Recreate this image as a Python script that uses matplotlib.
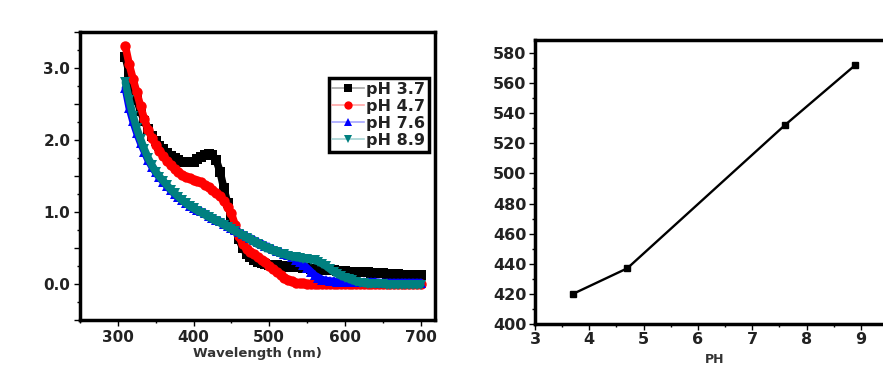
import numpy as np
import matplotlib
matplotlib.use("Agg")
import matplotlib.pyplot as plt
from matplotlib.ticker import MultipleLocator, FuncFormatter
from matplotlib.colors import to_rgb

# UV-vis spectra, wavelength 310..700 nm every 5 nm
wavelength = np.arange(310, 701, 5)

abs_ph37 = [3.15, 2.93, 2.74, 2.56, 2.40, 2.26, 2.15, 2.06, 1.98, 1.92,
            1.87, 1.82, 1.78, 1.75, 1.72, 1.70, 1.69, 1.69, 1.70, 1.73,
            1.76, 1.79, 1.80, 1.79, 1.72, 1.56, 1.33, 1.12, 0.92, 0.77,
            0.62, 0.50, 0.42, 0.37, 0.34, 0.31, 0.29, 0.28, 0.27, 0.26,
            0.26, 0.25, 0.25, 0.24, 0.24, 0.23, 0.23, 0.22, 0.22, 0.21,
            0.21, 0.20, 0.20, 0.20, 0.19, 0.19, 0.18, 0.18, 0.18, 0.17,
            0.17, 0.17, 0.16, 0.16, 0.16, 0.15, 0.15, 0.15, 0.15, 0.14,
            0.14, 0.14, 0.14, 0.13, 0.13, 0.13, 0.13, 0.12, 0.12]

abs_ph47 = [3.30, 3.05, 2.85, 2.66, 2.47, 2.29, 2.14, 2.03, 1.93, 1.85,
            1.78, 1.71, 1.65, 1.60, 1.55, 1.52, 1.49, 1.47, 1.45, 1.43,
            1.41, 1.38, 1.35, 1.31, 1.27, 1.22, 1.15, 1.07, 0.98, 0.82,
            0.66, 0.55, 0.49, 0.45, 0.42, 0.38, 0.34, 0.30, 0.25, 0.21,
            0.17, 0.13, 0.09, 0.06, 0.04, 0.02, 0.01, 0.01, 0.00, 0.00,
            0.00, 0.00, 0.00, 0.00, 0.00, 0.00, 0.00, 0.00, 0.00, 0.00,
            0.00, 0.00, 0.00, 0.00, 0.00, 0.00, 0.00, 0.00, 0.00, 0.00,
            0.00, 0.00, 0.00, 0.00, 0.00, 0.00, 0.00, 0.00, 0.00]

abs_ph76 = [2.72, 2.45, 2.26, 2.10, 1.96, 1.84, 1.72, 1.63, 1.55, 1.48,
            1.42, 1.36, 1.30, 1.25, 1.21, 1.17, 1.13, 1.09, 1.06, 1.03,
            1.01, 0.98, 0.95, 0.92, 0.89, 0.87, 0.84, 0.81, 0.78, 0.75,
            0.72, 0.69, 0.66, 0.64, 0.61, 0.58, 0.56, 0.53, 0.51, 0.48,
            0.46, 0.44, 0.42, 0.40, 0.37, 0.34, 0.31, 0.27, 0.22, 0.17,
            0.12, 0.09, 0.06, 0.05, 0.04, 0.04, 0.03, 0.03, 0.03, 0.03,
            0.03, 0.03, 0.03, 0.03, 0.03, 0.03, 0.03, 0.02, 0.02, 0.02,
            0.02, 0.02, 0.02, 0.02, 0.02, 0.02, 0.02, 0.02, 0.02]

abs_ph89 = [2.80, 2.55, 2.34, 2.16, 2.01, 1.87, 1.75, 1.65, 1.56, 1.49,
            1.43, 1.37, 1.31, 1.26, 1.21, 1.16, 1.12, 1.08, 1.05, 1.02,
            0.99, 0.96, 0.93, 0.90, 0.87, 0.85, 0.82, 0.79, 0.76, 0.73,
            0.70, 0.67, 0.64, 0.61, 0.58, 0.55, 0.53, 0.50, 0.48, 0.46,
            0.44, 0.42, 0.41, 0.39, 0.38, 0.37, 0.36, 0.35, 0.35, 0.34,
            0.33, 0.31, 0.28, 0.25, 0.21, 0.17, 0.14, 0.11, 0.09, 0.07,
            0.05, 0.03, 0.02, 0.01, 0.00, 0.00, 0.00, 0.00, 0.00, -0.01,
            -0.01, -0.01, -0.01, -0.01, -0.01, -0.01, -0.01, -0.01, -0.01]

labels = ['pH 3.7', 'pH 4.7', 'pH 7.6', 'pH 8.9']

# peak position vs pH
ph_values = [3.7, 4.7, 7.6, 8.9]
peak_nm = [420, 437, 532, 572]

fig = plt.figure(figsize=(8.83, 3.70), dpi=100)


def lighten(c, f=0.65):
    r, g, b = to_rgb(c)
    return (r + (1 - r) * f, g + (1 - g) * f, b + (1 - b) * f)


# ---- left panel: spectra
ax1 = fig.add_axes([80/883, 50/370, 355/883, 288/370])
series = [abs_ph37, abs_ph47, abs_ph76, abs_ph89]
styles = [('black', 's'), ('red', 'o'), ('#0000ff', '^'), ('#008080', 'v')]
handles = []
for y, lab, (c, m) in zip(series, labels, styles):
    # dense marker band (thick line under the markers)
    ax1.plot(wavelength, y, color=c, lw=5.5, solid_capstyle='round')
    ax1.plot(wavelength, y, color=c, lw=0, marker=m, markersize=7.5,
             markeredgewidth=0)
    h, = ax1.plot([], [], color=lighten(c), lw=1.2, marker=m,
                  markersize=6, markerfacecolor=c, markeredgecolor=c,
                  markeredgewidth=0, label=lab)
    handles.append(h)

ax1.set_xlim(250, 719)
ax1.set_ylim(-0.5, 3.5)
ax1.xaxis.set_major_locator(MultipleLocator(100))
ax1.xaxis.set_minor_locator(MultipleLocator(50))
ax1.yaxis.set_major_locator(MultipleLocator(0.5))
ax1.yaxis.set_minor_locator(MultipleLocator(0.25))
ax1.xaxis.set_major_formatter(FuncFormatter(lambda v, p: f'{v:.0f}' if v >= 300 else ''))
ax1.yaxis.set_major_formatter(FuncFormatter(lambda v, p: f'{v:.1f}' if abs(v - round(v)) < 1e-6 else ''))
ax1.tick_params(axis='both', which='major', direction='out', length=4, width=1,
                labelsize=11, pad=3)
ax1.tick_params(axis='both', which='minor', direction='out', length=2.5, width=1)
for lbl in ax1.get_xticklabels() + ax1.get_yticklabels():
    lbl.set_fontweight('bold')
    lbl.set_color('#222222')
ax1.set_xlabel('Wavelength (nm)', fontsize=9.5, fontweight='bold', color='#333333', labelpad=2)
for s in ax1.spines.values():
    s.set_linewidth(2.5)

leg = ax1.legend(handles=handles, loc='upper left', bbox_to_anchor=(0.70, 0.84),
                 fontsize=11.5, frameon=True, fancybox=False, framealpha=1,
                 borderpad=0.25, labelspacing=0.12, handlelength=2.0,
                 handletextpad=0.1, borderaxespad=0)
leg.get_frame().set_edgecolor('black')
leg.get_frame().set_linewidth(2.5)
for t in leg.get_texts():
    t.set_fontweight('bold')
    t.set_color('#222222')
leg.set_zorder(5)

# ---- right panel: peak wavelength vs pH
ax2 = fig.add_axes([535/883, 46/370, 360/883, 284/370])
ax2.plot(ph_values, peak_nm, color='black', lw=1.7, marker='s', markersize=5)
ax2.set_xlim(3, 3 + 360/54.3)
ax2.set_ylim(400, 588.6)
ax2.xaxis.set_major_locator(MultipleLocator(1))
ax2.xaxis.set_minor_locator(MultipleLocator(0.5))
ax2.yaxis.set_major_locator(MultipleLocator(20))
ax2.yaxis.set_minor_locator(MultipleLocator(10))
ax2.tick_params(axis='both', which='major', direction='out', length=4, width=1,
                labelsize=11.5, pad=2)
ax2.tick_params(axis='both', which='minor', direction='out', length=2.5, width=1)
for lbl in ax2.get_xticklabels() + ax2.get_yticklabels():
    lbl.set_fontweight('bold')
    lbl.set_color('#222222')
ax2.set_xlabel('PH', fontsize=9, fontweight='bold', color='#333333', labelpad=4)
for s in ax2.spines.values():
    s.set_linewidth(2.5)

fig.savefig('out.png', dpi=100)
